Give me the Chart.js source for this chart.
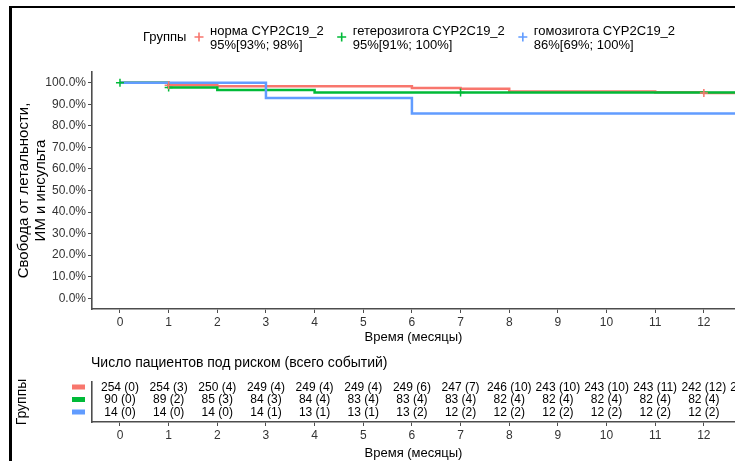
<!DOCTYPE html>
<html><head><meta charset="utf-8">
<script src="https://cdn.jsdelivr.net/npm/chart.js@4/dist/chart.umd.min.js"></script>
<style>
html,body{margin:0;padding:0;background:#fff;}
#wrap{position:relative;width:735px;height:461px;overflow:hidden;background:#fff}
#c1{position:absolute;left:0;top:0}
#c2{position:absolute;left:0;top:345px}
#frame{position:absolute;left:9px;top:6px;width:800px;height:500px;border-left:3px solid #000;border-top:2px solid #000;pointer-events:none}
</style></head>
<body>
<div id="wrap">
<canvas id="c1" width="735" height="345"></canvas>
<canvas id="c2" width="735" height="116"></canvas>
<div id="frame"></div>
</div>
<script>
// ---------- data ----------
const groupNames = ['норма CYP2C19_2', 'гетерозигота CYP2C19_2', 'гомозигота CYP2C19_2'];
const groupCI = ['95%[93%; 98%]', '95%[91%; 100%]', '86%[69%; 100%]'];
const groupColors = ['#F8766D', '#00BA38', '#619CFF'];

const xTicks = [0,1,2,3,4,5,6,7,8,9,10,11,12];
const yTicks = [0,10,20,30,40,50,60,70,80,90,100];
const yTickLabels = ['0.0%','10.0%','20.0%','30.0%','40.0%','50.0%','60.0%','70.0%','80.0%','90.0%','100.0%'];

// Kaplan-Meier step curves (time in months, survival %)
const timeNorm = [0, 1, 2, 6, 7, 8, 11, 12, 12.7];
const survNorm = [100, 98.8, 98.4, 97.6, 97.2, 96.0, 95.6, 95.2, 95.2];
const timeHetero = [0, 1, 2, 4, 12.7];
const survHetero = [100, 97.8, 96.7, 95.5, 95.5];
const timeHomo = [0, 3, 6, 12.7];
const survHomo = [100, 92.9, 85.7, 85.7];

// censoring marks
const censTimeNorm = [1, 12];
const censSurvNorm = [98.8, 95.2];
const censTimeHetero = [0, 1, 7];
const censSurvHetero = [100, 97.8, 95.5];

// risk table
const riskTimes = [0,1,2,3,4,5,6,7,8,9,10,11,12,13];
const riskNorm   = [254,254,250,249,249,249,249,247,246,243,243,243,242,241];
const eventsNorm = [0,3,4,4,4,4,6,7,10,10,10,11,12,12];
const riskHetero   = [90,89,85,84,84,83,83,83,82,82,82,82,82,82];
const eventsHetero = [0,2,3,3,4,4,4,4,4,4,4,4,4,4];
const riskHomo   = [14,14,14,14,13,13,13,12,12,12,12,12,12,12];
const eventsHomo = [0,0,0,1,1,1,2,2,2,2,2,2,2,2];

// ---------- helpers ----------
const FAM = "'Liberation Sans', Arial, Helvetica, sans-serif";
const pts = (t, s) => t.map((v, i) => ({x: v, y: s[i]}));
const XMIN = -0.575, XMAX = 12.64;
const AXIS_COLOR = '#4d4d4d';

function commonX(height, withTitle) {
  return {
    type: 'linear', min: XMIN, max: XMAX,
    afterBuildTicks: s => { s.ticks = xTicks.map(v => ({value: v})); },
    afterFit: s => { s.height = height; s.paddingLeft = 0; s.paddingRight = 0; },
    grid: {display: true, drawOnChartArea: false, drawTicks: true, tickLength: 4, color: AXIS_COLOR, lineWidth: 1},
    border: {display: true, color: AXIS_COLOR, width: 1.6},
    ticks: {color: '#333', font: {size: 12, family: FAM}, padding: 2, maxRotation: 0, autoSkip: false,
            callback: v => String(v)},
    title: {display: withTitle, text: 'Время (месяцы)', color: '#000', font: {size: 13, family: FAM}, padding: {top: 2, bottom: 0}}
  };
}

// legend plugin (main chart)
const legendPlugin = {
  id: 'kmLegend',
  afterDraw(chart) {
    const ctx = chart.ctx;
    ctx.save();
    ctx.font = '13px ' + FAM;
    ctx.fillStyle = '#000';
    ctx.textBaseline = 'middle';
    ctx.textAlign = 'left';
    ctx.fillText('Группы', 143, 37);
    let mx = 199;
    for (let i = 0; i < 3; i++) {
      const my = 37;
      ctx.strokeStyle = groupColors[i];
      ctx.lineWidth = 1.6;
      ctx.beginPath();
      ctx.moveTo(mx - 4.5, my); ctx.lineTo(mx + 4.5, my);
      ctx.moveTo(mx, my - 4.5); ctx.lineTo(mx, my + 4.5);
      ctx.stroke();
      ctx.fillStyle = '#000';
      ctx.fillText(groupNames[i], mx + 11, 31);
      ctx.fillText(groupCI[i], mx + 11, 45);
      const w = Math.max(ctx.measureText(groupNames[i]).width, ctx.measureText(groupCI[i]).width);
      mx = mx + 11 + w + 18;
    }
    ctx.restore();
  }
};

const lineDs = (label, data, color, order) => ({
  label, data, borderColor: color, backgroundColor: color, borderWidth: 2.5,
  stepped: true, pointRadius: 0, fill: false, order, clip: 0
});
const censDs = (data, color) => ({
  type: 'scatter', data, borderColor: color, backgroundColor: color, pointStyle: 'cross',
  pointRadius: 4, borderWidth: 1.5, order: -1, showLine: false
});

new Chart(document.getElementById('c1'), {
  type: 'line',
  data: {
    datasets: [
      lineDs(groupNames[0], pts(timeNorm, survNorm), groupColors[0], 2),
      lineDs(groupNames[1], pts(timeHetero, survHetero), groupColors[1], 1),
      lineDs(groupNames[2], pts(timeHomo, survHomo), groupColors[2], 0),
      censDs(pts(censTimeNorm, censSurvNorm), groupColors[0]),
      censDs(pts(censTimeHetero, censSurvHetero), groupColors[1])
    ]
  },
  options: {
    responsive: false, animation: false, events: [],
    layout: {autoPadding: false, padding: {left: 0, right: 0, top: 72, bottom: 0}},
    plugins: {legend: {display: false}, tooltip: {enabled: false}},
    scales: {
      x: commonX(36, true),
      y: {
        type: 'linear', min: -5, max: 105,
        afterBuildTicks: s => { s.ticks = yTicks.map(v => ({value: v})); },
        afterFit: s => { s.width = 92; },
        grid: {display: true, drawOnChartArea: false, drawTicks: true, tickLength: 4, color: AXIS_COLOR, lineWidth: 1},
        border: {display: true, color: AXIS_COLOR, width: 1.6},
        ticks: {color: '#333', font: {size: 12, family: FAM}, padding: 2,
                callback: v => yTickLabels[yTicks.indexOf(v)]},
        title: {display: true, text: ['Свобода от летальности,', 'ИМ и инсульта'], color: '#000',
                font: {size: 15, family: FAM, lineHeight: 1.1}, padding: {top: 16, bottom: 0}}
      }
    }
  },
  plugins: [legendPlugin]
});

// risk table chart
const riskRows = [
  {risk: riskNorm, ev: eventsNorm, color: groupColors[0], row: 1},
  {risk: riskHetero, ev: eventsHetero, color: groupColors[1], row: 2},
  {risk: riskHomo, ev: eventsHomo, color: groupColors[2], row: 3}
];
const riskPlugin = {
  id: 'riskTable',
  afterDraw(chart) {
    const ctx = chart.ctx, xs = chart.scales.x, ys = chart.scales.y;
    ctx.save();
    ctx.font = '14px ' + FAM;
    ctx.fillStyle = '#000';
    ctx.textBaseline = 'middle';
    ctx.textAlign = 'left';
    ctx.fillText('Число пациентов под риском (всего событий)', 91, 18);
    ctx.font = '12px ' + FAM;
    ctx.textAlign = 'center';
    riskRows.forEach(r => {
      const y = ys.getPixelForValue(r.row);
      ctx.fillStyle = r.color;
      ctx.fillRect(72, y - 2.5, 13, 5);
      ctx.fillStyle = '#000';
      riskTimes.forEach((t, i) => {
        ctx.fillText(r.risk[i] + ' (' + r.ev[i] + ')', xs.getPixelForValue(t), y + 0.5);
      });
    });
    ctx.restore();
  }
};

new Chart(document.getElementById('c2'), {
  type: 'line',
  data: {datasets: [{data: [], borderWidth: 0, pointRadius: 0}]},
  options: {
    responsive: false, animation: false, events: [],
    layout: {autoPadding: false, padding: {left: 0, right: 0, top: 37, bottom: 0}},
    plugins: {legend: {display: false}, tooltip: {enabled: false}},
    scales: {
      x: commonX(39, true),
      y: {
        type: 'linear', min: 0.6, max: 3.8, reverse: true,
        afterFit: s => { s.width = 92; },
        grid: {display: false},
        border: {display: true, color: AXIS_COLOR, width: 1.6},
        ticks: {display: false},
        title: {display: true, text: 'Группы', color: '#000', font: {size: 14, family: FAM}, padding: {top: 14, bottom: 0}}
      }
    }
  },
  plugins: [riskPlugin]
});
</script>
</body></html>
